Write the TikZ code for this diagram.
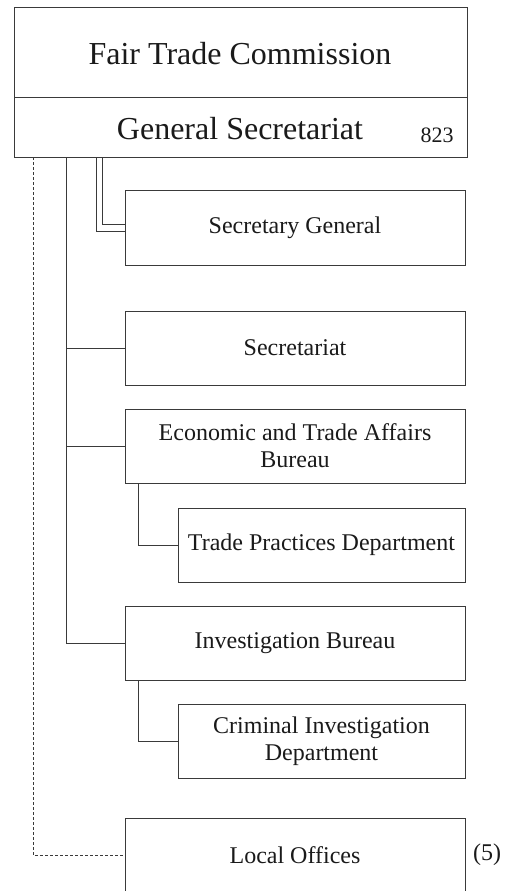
\documentclass[tikz,border=0pt]{standalone}
\usepackage{fontspec}
\setmainfont{Liberation Serif}
\definecolor{ln}{HTML}{3A3A3A}
\definecolor{tx}{HTML}{1A1A1A}
\begin{document}
\begin{tikzpicture}[x=1pt,y=-1pt,
  orgbox/.style={draw=ln,line width=0.9pt,fill=white,text=tx,align=center,inner sep=0pt,
    font=\fontsize{24}{27}\selectfont},
  conn/.style={draw=ln,line width=0.9pt},
  dashconn/.style={draw=ln,line width=0.9pt,dash pattern=on 3pt off 2pt},
  note/.style={text=tx,inner sep=0pt}]
\clip (0,0) rectangle (513,891);
\fill[white] (0,0) rectangle (513,891);
% top box
\node[orgbox,minimum width=453pt,minimum height=90pt] (ftc) at (240.5,52) {};
\node[note,font=\fontsize{32}{35}\selectfont,anchor=base] (ftct) at (240,64) {Fair Trade Commission};
\node[orgbox,minimum width=453pt,minimum height=60pt] (gs) at (240.5,127) {};
\node[note,font=\fontsize{32}{35}\selectfont,anchor=base] (gst) at (240,139) {General Secretariat};
\node[note,font=\fontsize{22}{24}\selectfont,anchor=base] (n823) at (437,142) {823};
% boxes
\node[orgbox,minimum width=340pt,minimum height=75pt] (sg) at (295,227.5) {Secretary General};
\node[orgbox,minimum width=340pt,minimum height=74pt] (sec) at (295,348) {Secretariat};
\node[orgbox,minimum width=340pt,minimum height=74pt] (eta) at (295,446) {Economic and Trade Affairs\\Bureau};
\node[orgbox,minimum width=287pt,minimum height=74pt] (tpd) at (321.5,545) {Trade Practices Department};
\node[orgbox,minimum width=340pt,minimum height=74pt] (ib) at (295,643) {Investigation Bureau};
\node[orgbox,minimum width=287pt,minimum height=74pt] (cid) at (321.5,741) {Criminal Investigation\\Department};
\node[orgbox,minimum width=340pt,minimum height=74pt] (lo) at (295,855) {Local Offices};
\node[note,font=\fontsize{24}{27}\selectfont] (five) at (487,855) {(5)};
% connectors
\coordinate (trunk) at (66,157);
\coordinate (dA) at (96,157);
\coordinate (dB) at (102,157);
\coordinate (dash) at (33,157);
\draw[conn] (trunk) |- (ib.west);
\draw[conn] (trunk |- sec.west) -- (sec.west);
\draw[conn] (trunk |- eta.west) -- (eta.west);
\draw[conn] (dA) |- ([yshift=-3.5pt]sg.west);
\draw[conn] (dB) |- ([yshift=3.5pt]sg.west);
\draw[conn] ([xshift=14pt]eta.south west) |- (tpd.west);
\draw[conn] ([xshift=14pt]ib.south west) |- (cid.west);
\draw[dashconn] (dash) |- (lo.west);
\end{tikzpicture}
\end{document}
